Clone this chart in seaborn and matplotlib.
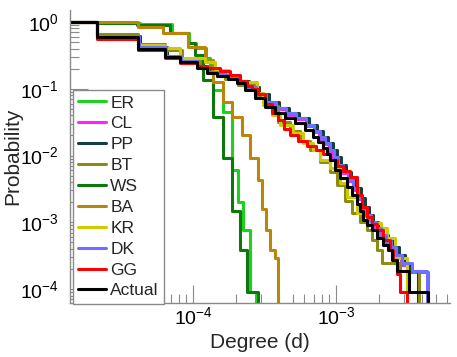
import numpy as np
import pandas as pd
import matplotlib
matplotlib.use('Agg')
import matplotlib.pyplot as plt
import matplotlib.ticker as mticker
import seaborn as sns

# number of nodes used to normalise the degree axis
n_nodes = 46900

# degree k (raw counts) and complementary cumulative probability for each model
er_k = [0.5, 1, 2, 3.35, 4.4, 4.9, 5.8, 6.2, 6.5, 7.6, 8.8, 9.7, 10.5, 11.7, 12.9]
er_p = [1, 0.97, 0.93, 0.68, 0.485, 0.41, 0.29, 0.178, 0.096, 0.045, 0.006, 0.002, 7.7e-4, 9e-5, 1e-5]

cl_k = [0.5, 1, 1.97, 3.0, 3.85, 5.05, 5.95, 7.0, 8.3, 9.6, 10.9, 12.8, 15.0, 17.7, 20.8, 24.4, 28.7,
        32.7, 35.8, 39.0, 42.0, 45.0, 48.0, 52.0, 56.5, 61.5, 66.5, 71.0, 76.0, 81.0, 88.0, 95.0,
        103.0, 112.0, 121.0, 133.0, 155.0, 205.0]
cl_p = [1, 0.61, 0.41, 0.305, 0.255, 0.21, 0.176, 0.158, 0.143, 0.128, 0.102, 0.080, 0.060, 0.049,
        0.041, 0.035, 0.0277, 0.0222, 0.0180, 0.0147, 0.0116, 0.0091, 0.0069, 0.0054, 0.0041, 0.0031,
        0.0022, 0.0016, 0.00125, 0.00098, 8.0e-4, 6.2e-4, 5.0e-4, 4.1e-4, 3.0e-4, 2.3e-4, 1.8e-4, 1e-5]

pp_k = [0.5, 1, 2.0, 3.09, 3.93, 5.17, 6.07, 7.24, 8.66, 10, 11.6, 13.6, 15.9, 18.7, 22.0, 25.8, 30.3,
        34.5, 38.1, 41.4, 44.9, 47.7, 50.8, 55.1, 59.8, 64.9, 70.4, 75.1, 80.1, 85.5, 92.7, 100,
        108.6, 117.8, 129.6, 142.6, 154.5, 176]
pp_p = [1, 0.617, 0.42, 0.31, 0.26, 0.212, 0.178, 0.16, 0.145, 0.131, 0.106, 0.084, 0.063, 0.051,
        0.043, 0.036, 0.0286, 0.0233, 0.0189, 0.0154, 0.0121, 0.0095, 0.0072, 0.0057, 0.0043, 0.0033,
        0.0023, 0.0017, 0.0013, 0.00102, 8.3e-4, 6.5e-4, 5.3e-4, 4.3e-4, 3.2e-4, 2.5e-4, 1.9e-4, 1e-5]

bt_k = [0.5, 1, 1.94, 2.99, 3.93, 5.25, 6.37, 7.86, 9.7, 12.7, 14.9, 18.4, 22.3, 26.3, 30.9, 36.2,
        42.6, 47.7, 54.3, 60.9, 69, 77.4, 83.8, 90.8, 98.5, 131, 178]
bt_p = [1, 0.66, 0.468, 0.38, 0.27, 0.22, 0.178, 0.14, 0.114, 0.078, 0.055, 0.032, 0.0233, 0.0165,
        0.0121, 0.0080, 0.0057, 0.0036, 0.0021, 0.0014, 0.001, 7.7e-4, 5.5e-4, 3.9e-4, 2.5e-4, 1.9e-4, 1e-5]

ws_k = [0.5, 1, 1.9, 3.24, 4.33, 4.84, 5.5, 6.46, 7.6, 8.8, 10, 11.2, 13.4]
ws_p = [1, 0.97, 0.90, 0.68, 0.485, 0.32, 0.135, 0.0376, 0.0092, 0.0015, 3.9e-4, 9.0e-5, 1e-5]

ba_k = [0.5, 1.94, 2.9, 4.3, 5.7, 6.5, 7.6, 8.8, 10.3, 11.7, 13.4, 14.3, 15.2, 16.2, 17.5, 18.4]
ba_p = [1, 0.84, 0.68, 0.42, 0.27, 0.126, 0.063, 0.038, 0.020, 0.0092, 0.0043, 0.0016, 7.6e-4,
        3.9e-4, 2.9e-4, 1e-5]

kr_k = [0.5, 1, 1.94, 2.99, 3.8, 5.7, 6.7, 8.2, 10, 13.1, 14.5, 16.7, 19.0, 23.5, 27.6, 32.4, 36.2,
        42.6, 50.1, 56.0, 65.8, 77.4, 96.4, 107, 121, 147]
kr_p = [1, 0.62, 0.45, 0.408, 0.289, 0.252, 0.191, 0.15, 0.126, 0.086, 0.057, 0.040, 0.0286, 0.0217,
        0.0154, 0.0121, 0.0086, 0.0066, 0.0039, 0.0024, 0.00137, 9.7e-4, 8.3e-4, 5.8e-4, 2.9e-4, 1e-5]

dk_k = [0.5, 1, 1.97, 3.04, 3.86, 5.08, 5.98, 7.0, 8.4, 9.7, 11.0, 12.9, 15.2, 17.8, 20.9, 24.6, 28.9,
        32.9, 36.2, 39.3, 42.6, 45.4, 48.4, 52.5, 57.0, 61.9, 67.2, 71.7, 76.6, 81.8, 88.8, 96.4,
        104.6, 113.5, 123, 135, 159, 203]
dk_p = [1, 0.617, 0.42, 0.31, 0.26, 0.212, 0.178, 0.16, 0.145, 0.131, 0.106, 0.084, 0.063, 0.051,
        0.043, 0.036, 0.0286, 0.0233, 0.0189, 0.0154, 0.0121, 0.0095, 0.0072, 0.0057, 0.0043, 0.0033,
        0.0023, 0.0017, 0.0013, 0.00102, 8.3e-4, 6.5e-4, 5.3e-4, 4.3e-4, 3.2e-4, 2.5e-4, 1.9e-4, 1e-5]

gg_k = [0.5, 1, 1.94, 2.99, 3.8, 5.0, 5.88, 7.2, 8.5, 10, 11.2, 12.1, 13.3, 14.9, 16.8, 18.4, 20.3,
        22.3, 25.4, 29.4, 34.1, 38.1, 42.6, 47.7, 52.5, 58.6, 65.8, 71.7, 77.4, 83.8, 90.8, 100, 112,
        117, 125, 131, 147]
gg_p = [1, 0.556, 0.381, 0.289, 0.243, 0.219, 0.205, 0.184, 0.16, 0.131, 0.110, 0.099, 0.083, 0.059,
        0.043, 0.034, 0.025, 0.0203, 0.0165, 0.0139, 0.0121, 0.0105, 0.0086, 0.0070, 0.0059, 0.0048,
        0.0026, 0.0017, 0.0012, 9.6e-4, 7.7e-4, 5.5e-4, 3.9e-4, 2.7e-4, 1.7e-4, 9e-5, 1e-5]

act_k = [0.5, 1, 1.94, 2.99, 3.8, 5.0, 5.88, 6.9, 8.2, 9.5, 10.8, 12.7, 14.9, 17.6, 20.6, 24.3, 28.5,
         32.4, 35.1, 38.1, 40.6, 42.6, 46.3, 50.1, 56, 60.9, 65.8, 69, 72.5, 77.4, 83.8, 90.8, 100,
         108, 116, 125, 151, 206]
act_p = [1, 0.596, 0.40, 0.30, 0.252, 0.205, 0.172, 0.155, 0.140, 0.122, 0.096, 0.073, 0.053, 0.043,
         0.036, 0.031, 0.024, 0.019, 0.016, 0.0128, 0.0105, 0.0086, 0.0061, 0.0046, 0.0034, 0.0026,
         0.0019, 0.0015, 0.0011, 9.1e-4, 7.7e-4, 5.8e-4, 4.6e-4, 3.9e-4, 2.7e-4, 1.9e-4, 9.0e-5, 1e-5]

series = [
    ('ER', er_k, er_p, '#1fd11f'),
    ('CL', cl_k, cl_p, '#ff22ff'),
    ('PP', pp_k, pp_p, '#123f3f'),
    ('BT', bt_k, bt_p, '#8c8c14'),
    ('WS', ws_k, ws_p, '#0f770f'),
    ('BA', ba_k, ba_p, '#b8860b'),
    ('KR', kr_k, kr_p, '#cccc00'),
    ('DK', dk_k, dk_p, '#7070ff'),
    ('GG', gg_k, gg_p, '#ff0000'),
    ('Actual', act_k, act_p, '#000000'),
]

sns.set_theme(style='white')
plt.rcParams['font.family'] = ['Liberation Sans', 'DejaVu Sans']
plt.rcParams['mathtext.fontset'] = 'custom'
plt.rcParams['mathtext.rm'] = 'Liberation Sans'
plt.rcParams['mathtext.it'] = 'Liberation Sans:italic'
plt.rcParams['mathtext.bf'] = 'Liberation Sans:bold'

fig = plt.figure(figsize=(4.57, 3.57), dpi=100)
ax = fig.add_axes([0.1532, 0.1513, 0.8315, 0.82])
ax.set_xscale('log')
ax.set_yscale('log')

for name, k, p, color in series:
    df = pd.DataFrame({'degree': np.array(k) / n_nodes, 'prob': p})
    sns.lineplot(data=df, x='degree', y='prob', ax=ax, color=color, lw=2.2,
                 drawstyle='steps-post', estimator=None, sort=False, label=name)

ax.set_xlim(1.38e-5, 6.27e-3)
ax.set_ylim(6.2e-5, 1.5)

ax.xaxis.set_major_locator(mticker.LogLocator(base=10))
ax.xaxis.set_minor_locator(mticker.LogLocator(base=10, subs=np.arange(2, 10)))
ax.yaxis.set_major_locator(mticker.LogLocator(base=10))
ax.yaxis.set_minor_locator(mticker.LogLocator(base=10, subs=np.arange(2, 10)))
ax.xaxis.set_minor_formatter(mticker.NullFormatter())
ax.yaxis.set_minor_formatter(mticker.NullFormatter())

ax.tick_params(which='both', direction='in', color='#8a8a8a', width=0.8, labelsize=14,
               labelcolor='black', bottom=True, left=True)
ax.tick_params(which='major', length=13)
ax.tick_params(which='minor', length=6.5)
ax.tick_params(axis='x', pad=2)
ax.tick_params(axis='y', pad=8)

sns.despine(ax=ax)
for s in ['left', 'bottom']:
    ax.spines[s].set_color('#8a8a8a')
    ax.spines[s].set_linewidth(1)

ax.set_xlabel('Degree (d)', fontsize=15, labelpad=4)
ax.set_ylabel('Probability', fontsize=15)
ax.yaxis.set_label_coords(-0.126, 0.5)

leg = ax.legend(loc='upper left', bbox_to_anchor=(0.008, 0.727), borderaxespad=0,
                fontsize=12.5, frameon=True, fancybox=False, framealpha=1, edgecolor='#8a8a8a',
                handlelength=1.6, handletextpad=0.25, labelspacing=0.33, borderpad=0.3)
leg.get_frame().set_linewidth(1)
for line in leg.get_lines():
    line.set_linewidth(2.2)

fig.savefig('out.png', dpi=100)
